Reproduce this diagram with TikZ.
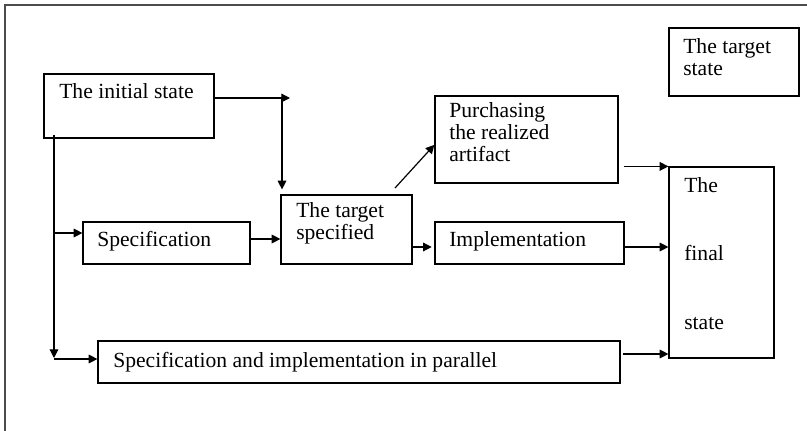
\documentclass[tikz,border=0pt]{standalone}
\usepackage{fontspec}
\setmainfont{Liberation Serif}
\usetikzlibrary{arrows.meta,fit}
\begin{document}
\begin{tikzpicture}[x=0.75pt,y=-0.75pt,
  box/.style={draw,line width=0.9pt,inner sep=0pt},
  txt/.style={anchor=base west,inner sep=0pt,font=\fontsize{16.2}{19}\selectfont},
  arr/.style={line width=0.9pt,-{Triangle[length=6.5pt,width=6.5pt]}},
  frame/.style={line width=1.2pt,black!70}]
\useasboundingbox (0,0) rectangle (807,431);

% outer frame (top and left edges only)
\draw[frame] (5,431) -- (5,5) -- (807,5);

% boxes
\node[box,fit={(44,74) (214,138)}] (init) {};
\node[box,fit={(669,28) (799,96)}] (tstate) {};
\node[box,fit={(435,96) (618,183)}] (purch) {};
\node[box,fit={(281,195) (412,264)}] (tspec) {};
\node[box,fit={(83,222) (250,264)}] (spec) {};
\node[box,fit={(435,222) (624,264)}] (impl) {};
\node[box,fit={(669,167) (774,358)}] (fin) {};
\node[box,fit={(98,341) (620,383)}] (par) {};

% texts
\node[txt] (tInit) at (59,99) {The initial state};
\node[txt] (tTs1) at (683,54) {The target};
\node[txt] (tTs2) at (683,76) {state};
\node[txt] (tP1) at (449,118) {Purchasing};
\node[txt] (tP2) at (449,140) {the realized};
\node[txt] (tP3) at (449,162) {artifact};
\node[txt] (tS1) at (296,218) {The target};
\node[txt] (tS2) at (296,239) {specified};
\node[txt] (tSpec) at (97,247) {Specification};
\node[txt] (tImpl) at (449,247) {Implementation};
\node[txt] (tF1) at (684,193) {The};
\node[txt] (tF2) at (684,261) {final};
\node[txt] (tF3) at (684,329) {state};
\node[txt] (tPar) at (113,367) {Specification and implementation in parallel};

% connectors
\coordinate (hd) at (290,98);
\coordinate (jn) at (282,98);
\draw[arr] (init.east |- hd) -- (hd);
\draw[arr,shorten >=3.75pt] (jn) -- (jn |- tspec.north);

\coordinate (dg) at (395,188);
\draw[arr] (dg) -- ([yshift=-4pt]purch.west);

\draw[arr] ([yshift=3pt]spec.east) -- ([yshift=3pt]spec.east -| tspec.west);
\draw[arr] ([yshift=-3pt]impl.west -| tspec.east) -- ([yshift=-3pt,xshift=-2pt]impl.west);

\draw[arr] ([xshift=3.75pt]purch.east |- fin.north) -- (fin.north west);
\draw[arr] ([yshift=-3pt]impl.east) -- ([yshift=-3pt]impl.east -| fin.west);
\draw[arr] ([yshift=6pt,xshift=2pt]par.east) -- ([yshift=6pt]par.east -| fin.west);

\coordinate (tt) at (54,135);
\coordinate (tb) at (54,358);
\draw[arr] (tt) -- (tb);
\draw[arr] ([yshift=7.5pt]spec.west -| tt) -- ([yshift=7.5pt]spec.west);
\draw[arr] ([yshift=2.25pt]par.west -| tt) -- ([yshift=2.25pt]par.west);
\end{tikzpicture}
\end{document}
